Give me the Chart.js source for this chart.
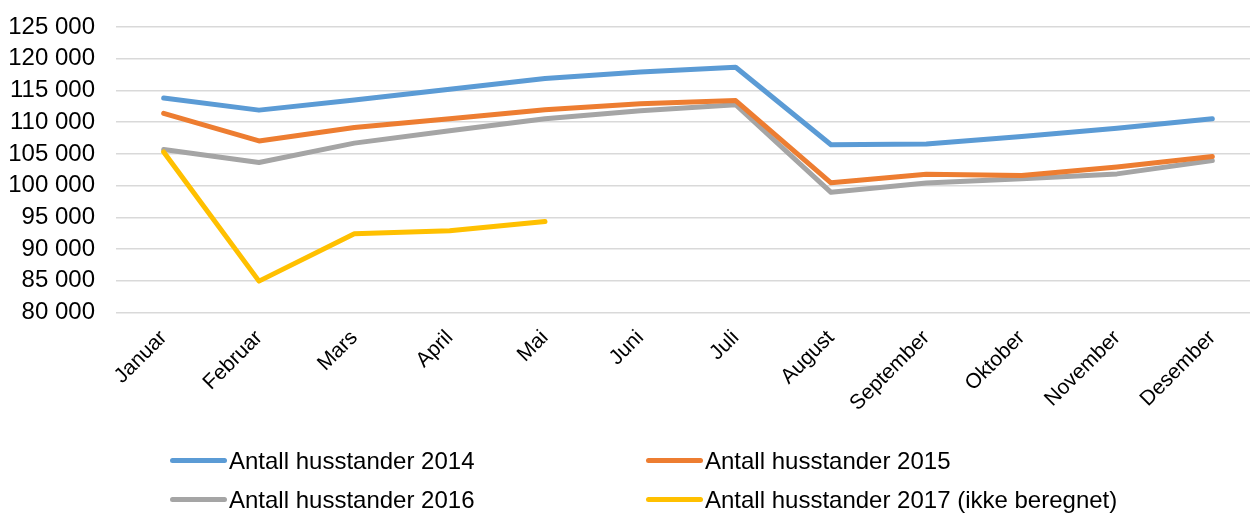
<!DOCTYPE html>
<html>
<head>
<meta charset="utf-8">
<script src="https://cdn.jsdelivr.net/npm/chart.js@4/dist/chart.umd.min.js"></script>
<style>
  html, body { margin: 0; padding: 0; background: #fff; overflow: hidden; }
  #wrap { position: relative; width: 1262px; height: 514px; }
  #legend {
    position: absolute; left: 170px; top: 441px;
    display: grid; grid-template-columns: 476px 476px; grid-auto-rows: 39px;
    font-family: 'Liberation Sans', Arial, sans-serif; font-size: 24px; color: #000;
  }
  .item { display: flex; align-items: center; white-space: nowrap; }
  .swatch { width: 57px; height: 5px; border-radius: 3px; margin-right: 2px; }
</style>
</head>
<body>
<div id="wrap">
  <canvas id="lineChart"></canvas>
  <div id="legend"></div>
</div>
<script>
// Months on the x axis
const months = ['Januar', 'Februar', 'Mars', 'April', 'Mai', 'Juni',
  'Juli', 'August', 'September', 'Oktober', 'November', 'Desember'];

// Number of households per month
const households2014 = [113800, 111900, 113500, 115200, 116900, 117900,
  118650, 106450, 106550, 107750, 109050, 110550];
const households2015 = [111400, 107050, 109150, 110550, 111950, 112900,
  113400, 100450, 101800, 101600, 102950, 104600];
const households2016 = [105700, 103650, 106700, 108650, 110550, 111800,
  112750, 98950, 100400, 101100, 101850, 103950];
const households2017 = [105300, 84950, 92400, 92900, 94350,
  null, null, null, null, null, null, null];

// Y axis range
const yMin = 80000;
const yMax = 125000;
const yStep = 5000;

Chart.defaults.font.family = "'Liberation Sans', Arial, sans-serif";
Chart.defaults.font.size = 24;
Chart.defaults.color = '#000';

function series(label, data, color, order) {
  return {
    label: label,
    data: data,
    borderColor: color,
    backgroundColor: color,
    borderWidth: 5,
    borderCapStyle: 'round',
    borderJoinStyle: 'round',
    pointRadius: 0,
    tension: 0,
    spanGaps: false,
    order: order
  };
}

// drop the extra room Chart.js keeps for first/last labels
function noEdgePadding(scale) {
  scale.paddingLeft = 0;
  scale.paddingRight = 0;
  scale.paddingTop = 0;
  scale.paddingBottom = 0;
}

const ctx = document.getElementById('lineChart').getContext('2d');

const lineChart = new Chart(ctx, {
  type: 'line',
  data: {
    labels: months,
    datasets: [
      series('Antall husstander 2014', households2014, '#5B9BD5', 3),
      series('Antall husstander 2015', households2015, '#ED7D31', 1),
      series('Antall husstander 2016', households2016, '#A5A5A5', 2),
      series('Antall husstander 2017 (ikke beregnet)', households2017, '#FFC000', 0)
    ]
  },
  options: {
    responsive: true,
    maintainAspectRatio: false,
    animation: false,
    layout: {
      padding: { top: 27, left: 8, right: 2, bottom: 93 }
    },
    plugins: {
      legend: { display: false },
      tooltip: { enabled: false }
    },
    scales: {
      x: {
        offset: true,
        grid: { display: false },
        border: { display: false },
        afterFit: noEdgePadding,
        ticks: {
          minRotation: 45,
          maxRotation: 45,
          autoSkip: false,
          padding: 5,
          font: { size: 21 }
        }
      },
      y: {
        min: yMin,
        max: yMax,
        border: { display: false },
        grid: { color: '#D9D9D9', lineWidth: 1.5, drawTicks: false },
        afterFit: scale => {
          noEdgePadding(scale);
          scale.width = 108;
        },
        ticks: {
          stepSize: yStep,
          autoSkip: false,
          padding: 21,
          // thousands separated with a space
          callback: v => String(v).replace(/\B(?=(\d{3})+(?!\d))/g, ' ')
        }
      }
    }
  }
});

// Legend laid out in two columns like the original
const legendEl = document.getElementById('legend');
lineChart.data.datasets.forEach(ds => {
  const item = document.createElement('div');
  item.className = 'item';
  const sw = document.createElement('span');
  sw.className = 'swatch';
  sw.style.background = ds.borderColor;
  const txt = document.createElement('span');
  txt.textContent = ds.label;
  item.appendChild(sw);
  item.appendChild(txt);
  legendEl.appendChild(item);
});
</script>
</body>
</html>
